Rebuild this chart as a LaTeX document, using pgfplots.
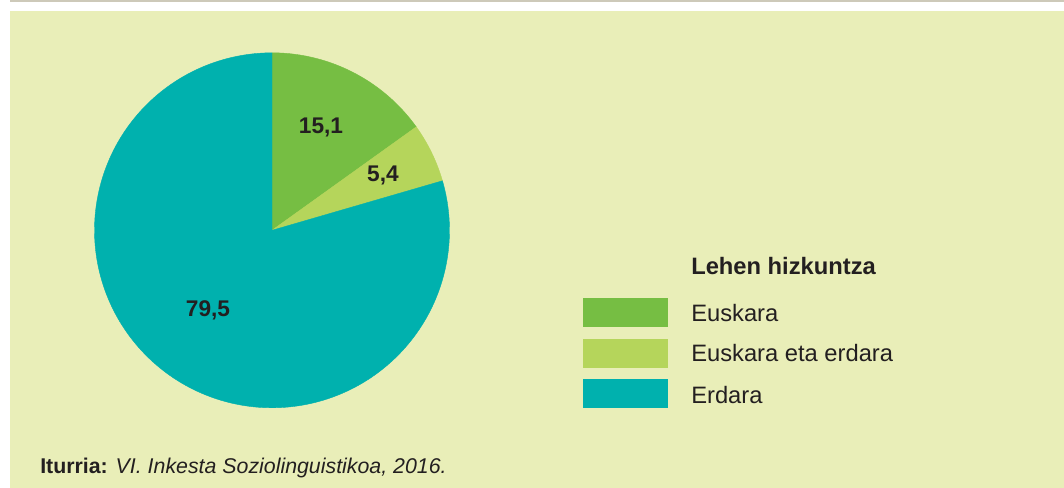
\documentclass[border=0pt]{standalone}
\usepackage{pgfplots}
\pgfplotsset{compat=1.18}
\usepackage{pgfplotstable}
\usepackage{fontspec}
\setmainfont{Liberation Sans}
\definecolor{bgc}{HTML}{E9EEB8}
\definecolor{eusk}{HTML}{76BE43}
\definecolor{biak}{HTML}{B5D55B}
\definecolor{erd}{HTML}{00B1AE}
\definecolor{txt}{HTML}{231F20}
\definecolor{topline}{HTML}{CDC9B9}

\pgfplotstableread{
value
15.1
5.4
79.5
}\piedata
\pgfplotstablegetelem{0}{value}\of\piedata \let\va\pgfplotsretval
\pgfplotstablegetelem{1}{value}\of\piedata \let\vb\pgfplotsretval
\pgfplotstablegetelem{2}{value}\of\piedata \let\vc\pgfplotsretval
\pgfmathsetmacro\aA{90-3.6*\va}
\pgfmathsetmacro\aB{\aA-3.6*\vb}
\pgfmathsetmacro\aC{\aB-3.6*\vc}
\def\cx{272}
\def\cy{230.3}
\def\rr{177.5}

\begin{document}
\begin{tikzpicture}
\begin{axis}[
  width=798pt, height=366pt, scale only axis,
  xmin=0, xmax=1064, ymin=0, ymax=488, y dir=reverse,
  hide axis, clip=false,
]
% background
\fill[white] (axis cs:0,0) rectangle (axis cs:1064,488);
\fill[topline] (axis cs:10,0) rectangle (axis cs:1064,2.2);
\fill[bgc] (axis cs:10,11) rectangle (axis cs:1064,488);
% pie slices
\addplot[fill=eusk, draw=eusk, line width=0.3pt, domain=\aA:90, samples=80, variable=\t]
  ({\cx+\rr*cos(\t)},{\cy-\rr*sin(\t)}) -- (axis cs:\cx,\cy) -- cycle;
\addplot[fill=biak, draw=biak, line width=0.3pt, domain=\aB:\aA, samples=40, variable=\t]
  ({\cx+\rr*cos(\t)},{\cy-\rr*sin(\t)}) -- (axis cs:\cx,\cy) -- cycle;
\addplot[fill=erd, draw=erd, line width=0.3pt, domain=\aC:\aB, samples=200, variable=\t]
  ({\cx+\rr*cos(\t)},{\cy-\rr*sin(\t)}) -- (axis cs:\cx,\cy) -- cycle;
% slice labels
\node[anchor=base, inner sep=0pt, text=txt, font=\fontsize{17pt}{20pt}\selectfont\bfseries] at (axis cs:321,134) {15,1};
\node[anchor=base, inner sep=0pt, text=txt, font=\fontsize{17pt}{20pt}\selectfont\bfseries] at (axis cs:383,182) {5,4};
\node[anchor=base, inner sep=0pt, text=txt, font=\fontsize{17pt}{20pt}\selectfont\bfseries] at (axis cs:208,317) {79,5};
% legend
\node[anchor=base west, inner sep=0pt, text=txt, font=\fontsize{17.8pt}{21pt}\selectfont\bfseries] at (axis cs:691,275) {Lehen hizkuntza};
\fill[eusk] (axis cs:583,298.3) rectangle (axis cs:668,326.7);
\fill[biak] (axis cs:583,339) rectangle (axis cs:668,367.7);
\fill[erd] (axis cs:583,379) rectangle (axis cs:668,407.7);
\node[anchor=base west, inner sep=0pt, text=txt, font=\fontsize{17.8pt}{21pt}\selectfont] at (axis cs:691,321) {Euskara};
\node[anchor=base west, inner sep=0pt, text=txt, font=\fontsize{17.8pt}{21pt}\selectfont] at (axis cs:691,362) {Euskara eta erdara};
\node[anchor=base west, inner sep=0pt, text=txt, font=\fontsize{17.8pt}{21pt}\selectfont] at (axis cs:691,403) {Erdara};
% source
\node[anchor=base west, inner sep=0pt, text=txt, font=\fontsize{16pt}{19pt}\selectfont] at (axis cs:40,473) {\textbf{Iturria:} \textit{VI. Inkesta Soziolinguistikoa, 2016.}};
\end{axis}
\end{tikzpicture}
\end{document}
